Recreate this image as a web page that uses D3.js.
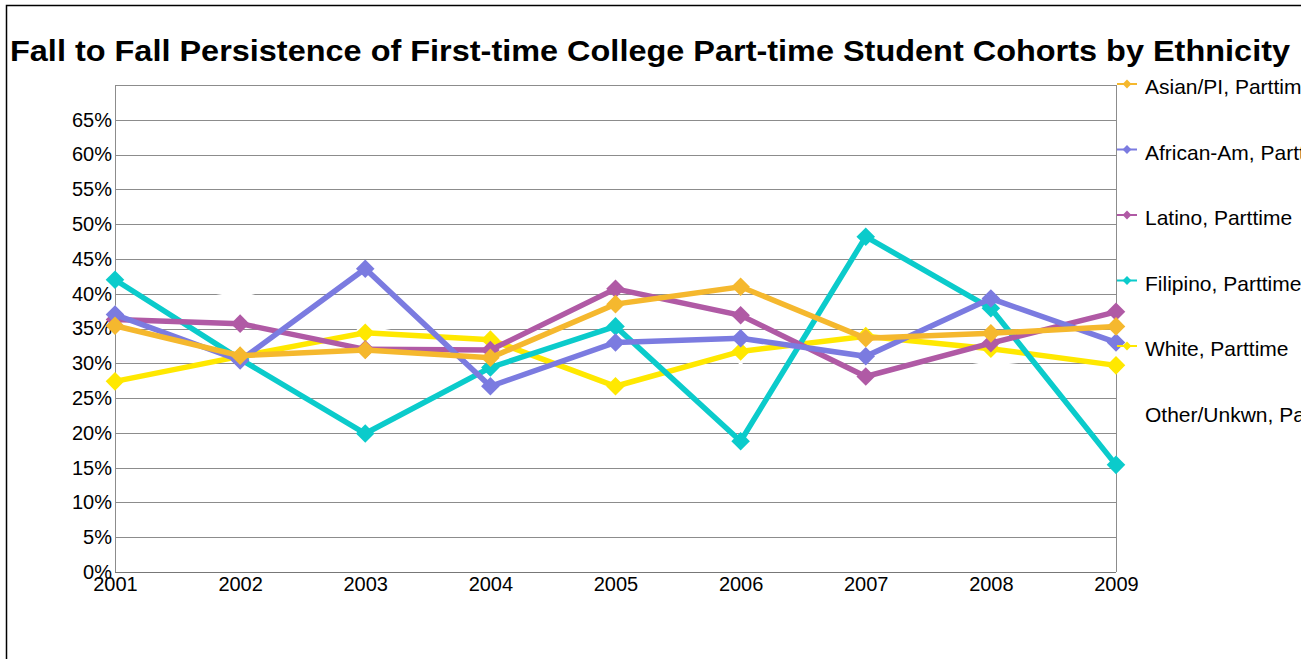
<!DOCTYPE html>
<html>
<head>
<meta charset="utf-8">
<script src="https://cdn.jsdelivr.net/npm/d3@7"></script>
<style>
body{margin:0;background:#fff;}
svg text{font-family:"Liberation Sans",Arial,sans-serif;fill:#000;}
</style>
</head>
<body>
<div id="grafico"></div>
<script>
// datos
var anios = [2001,2002,2003,2004,2005,2006,2007,2008,2009];
var ticksY = [0,5,10,15,20,25,30,35,40,45,50,55,60,65];
var nombres = ["Asian/PI, Parttime","African-Am, Parttime","Latino, Parttime","Filipino, Parttime","White, Parttime","Other/Unkwn, Parttime"];
var colores = ["#f5b82e","#7b7be0","#b05aa5","#0bcbcb","#ffe800","#ffffff"];
var asian    = [35.4,31.1,31.9,30.8,38.5,41.0,33.6,34.3,35.3];
var africana = [37.0,30.4,43.6,26.7,33.0,33.6,31.0,39.3,33.0];
var latino   = [36.3,35.7,32.0,31.9,40.7,36.9,28.1,32.9,37.4];
var filipino = [42.0,30.6,19.9,29.4,35.3,18.8,48.2,37.9,15.4];
var blanco   = [27.4,31.0,34.4,33.4,26.7,31.7,33.9,32.1,29.7];
var otro     = [37.0,40.0,35.0,32.0,33.0,31.0,33.0,30.0,32.0];
var series = [asian,africana,latino,filipino,blanco,otro];

var W = 1301, H = 659;
var m = {left:115, top:85, right:1116, bottom:572};

var svg = d3.select("#grafico").append("svg")
	.attr("width",W).attr("height",H);

// marco exterior
svg.append("rect").attr("x",6.5).attr("y",5.5)
	.attr("width",W).attr("height",H)
	.attr("fill","none").attr("stroke","#000").attr("stroke-width",1.5);

// titulo
svg.append("text").attr("x",10).attr("y",61)
	.attr("font-size",30).attr("font-weight","bold")
	.attr("textLength",1280).attr("lengthAdjust","spacingAndGlyphs")
	.text("Fall to Fall Persistence of First-time College Part-time Student Cohorts by Ethnicity");

var x = d3.scalePoint().domain(anios).range([m.left,m.right]);
var y = d3.scaleLinear().domain([0,70]).range([m.bottom,m.top]);

// rejilla
var g = svg.append("g");
g.selectAll(".rej").data(ticksY.slice(1).concat([70])).enter().append("line")
	.attr("x1",m.left).attr("x2",m.right)
	.attr("y1",function(d){return Math.round(y(d))+0.5;})
	.attr("y2",function(d){return Math.round(y(d))+0.5;})
	.attr("stroke","#8c8c8c").attr("stroke-width",1);
g.append("line").attr("x1",m.left+0.5).attr("x2",m.left+0.5)
	.attr("y1",m.top).attr("y2",m.bottom).attr("stroke","#8c8c8c");
g.append("line").attr("x1",m.right+0.5).attr("x2",m.right+0.5)
	.attr("y1",m.top).attr("y2",m.bottom).attr("stroke","#8c8c8c");
g.append("line").attr("x1",m.left).attr("x2",m.right)
	.attr("y1",m.bottom+0.5).attr("y2",m.bottom+0.5).attr("stroke","#777");

// ejes
var ejeY = d3.axisLeft(y).tickValues(ticksY).tickSize(0).tickPadding(3)
	.tickFormat(function(d){return d+"%";});
svg.append("g").attr("transform","translate("+m.left+",0)").call(ejeY)
	.call(function(s){s.select(".domain").remove();})
	.selectAll("text").attr("font-size",20).attr("font-family","Liberation Sans, Arial, sans-serif").attr("fill","#000");

var ejeX = d3.axisBottom(x).tickSize(0).tickPadding(5);
svg.append("g").attr("transform","translate(0,"+m.bottom+")").call(ejeX)
	.call(function(s){s.select(".domain").remove();})
	.selectAll("text").attr("font-size",20).attr("font-family","Liberation Sans, Arial, sans-serif").attr("fill","#000");

// lineas (orden de dibujo)
var linea = d3.line().x(function(d,i){return x(anios[i]);}).y(function(d){return y(d);});
var diamante = d3.symbol().type(d3.symbolDiamond2).size(220);
var orden = [5,4,3,2,1,0];
orden.forEach(function(k){
	var gs = svg.append("g").attr("class","serie"+k);
	gs.append("path").datum(series[k])
		.attr("d",linea).attr("fill","none")
		.attr("stroke",colores[k]).attr("stroke-width",5.5).attr("stroke-linejoin","miter");
	gs.selectAll("path.m").data(series[k]).enter().append("path").attr("class","m")
		.attr("d",diamante)
		.attr("transform",function(d,i){return "translate("+x(anios[i])+","+y(d)+")";})
		.attr("fill",colores[k]);
});

// leyenda
var ley = svg.append("g");
nombres.forEach(function(n,i){
	var yy = 84 + i*65.5;
	ley.append("line").attr("x1",1117).attr("x2",1137).attr("y1",yy).attr("y2",yy)
		.attr("stroke",colores[i]).attr("stroke-width",2);
	ley.append("path").attr("d",d3.symbol().type(d3.symbolDiamond2).size(50))
		.attr("transform","translate(1127,"+yy+")").attr("fill",colores[i]);
	ley.append("text").attr("x",1145).attr("y",yy+10).attr("font-size",21).text(n);
});
</script>
</body>
</html>
